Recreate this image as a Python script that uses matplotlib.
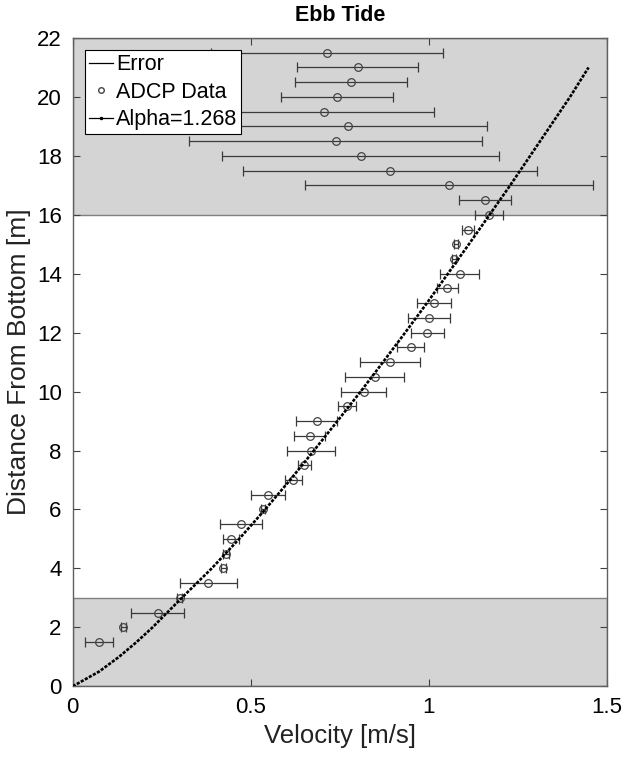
import numpy as np
import matplotlib
matplotlib.use('Agg')
import matplotlib.pyplot as plt
from matplotlib.lines import Line2D

plt.rcParams['font.family'] = ['Liberation Sans', 'DejaVu Sans']

depth = [1.5, 2.0, 2.5, 3.0, 3.5, 4.0, 4.5, 5.0, 5.5, 6.0, 6.5, 7.0, 7.5, 8.0,
         8.5, 9.0, 9.5, 10.0, 10.5, 11.0, 11.5, 12.0, 12.5, 13.0, 13.5, 14.0,
         14.5, 15.0, 15.5, 16.0, 16.5, 17.0, 17.5, 18.0, 18.5, 19.0, 19.5,
         20.0, 20.5, 21.0, 21.5]
vel = [0.074, 0.142, 0.238, 0.300, 0.381, 0.423, 0.431, 0.445, 0.472, 0.534,
       0.548, 0.619, 0.650, 0.669, 0.665, 0.685, 0.769, 0.817, 0.848, 0.891,
       0.949, 0.995, 1.000, 1.015, 1.052, 1.086, 1.071, 1.076, 1.109, 1.168,
       1.157, 1.057, 0.890, 0.808, 0.738, 0.773, 0.706, 0.742, 0.780, 0.800,
       0.714]
err = [0.039, 0.008, 0.075, 0.008, 0.079, 0.008, 0.008, 0.022, 0.059, 0.005,
       0.048, 0.024, 0.018, 0.067, 0.044, 0.058, 0.025, 0.063, 0.083, 0.084,
       0.038, 0.046, 0.058, 0.048, 0.030, 0.054, 0.005, 0.005, 0.017, 0.039,
       0.073, 0.404, 0.413, 0.389, 0.412, 0.391, 0.308, 0.157, 0.157, 0.170,
       0.325]

# fitted profile, Alpha=1.268
fit_z = [0, 0.5, 1, 1.5, 2, 3, 4, 5, 6, 7, 8, 9, 10, 11, 12, 13, 14, 15, 16,
         17, 18, 19, 20, 21]
fit_u = [0.0, 0.074, 0.130, 0.179, 0.224, 0.306, 0.390, 0.467, 0.540, 0.610,
         0.677, 0.743, 0.808, 0.871, 0.933, 0.994, 1.053, 1.112, 1.170, 1.228,
         1.284, 1.340, 1.396, 1.448]

fig = plt.figure(figsize=(6.22, 7.6), dpi=100)
ax = fig.add_axes([0.117, 0.097, 0.859, 0.853])

grey = '#d4d4d4'
ax.axhspan(16, 22, facecolor=grey, edgecolor='#808080', lw=1, zorder=0)
ax.axhspan(0, 3, facecolor=grey, edgecolor='#808080', lw=1, zorder=0)

ax.errorbar(vel, depth, xerr=err, fmt='none', ecolor='#3a3a3a', elinewidth=0.9,
            capsize=3.5, capthick=0.9, zorder=2)
ax.plot(vel, depth, 'o', mfc='none', mec='#444444', ms=5.5, mew=0.9, zorder=3)
ax.plot(fit_u, fit_z, color='black', lw=1.9, ls=(0, (1.2, 0.55)), zorder=4)

ax.set_xlim(0, 1.5)
ax.set_ylim(0, 22)
ax.set_xticks([0, 0.5, 1, 1.5])
ax.set_xticklabels(['0', '0.5', '1', '1.5'])
ax.set_yticks(np.arange(0, 23, 2))
ax.tick_params(direction='in', top=True, right=True, labelsize=16,
               length=5, color='#404040', pad=8)
for s in ax.spines.values():
    s.set_color('#606060')
    s.set_linewidth(1.0)

ax.set_xlabel('Velocity [m/s]', fontsize=18.5, color='#222222')
ax.set_ylabel('Distance From Bottom [m]', fontsize=19, color='#222222')
ax.set_title('Ebb Tide', fontsize=15.5, fontweight='bold', pad=12)

handles = [Line2D([], [], color='black', lw=0.9),
           Line2D([], [], ls='none', marker='o', mfc='none', mec='#444444', ms=4),
           Line2D([], [], color='black', lw=0.9, marker='.', ms=3)]
leg = ax.legend(handles, ['Error', 'ADCP Data', 'Alpha=1.268'], loc='upper left',
                fontsize=15.5, frameon=True, fancybox=False, framealpha=1,
                edgecolor='black', handlelength=1.1, handletextpad=0.15,
                borderpad=0.2, labelspacing=0.3, borderaxespad=0.55)
leg.get_frame().set_linewidth(0.8)

fig.savefig('out.png', dpi=100)
